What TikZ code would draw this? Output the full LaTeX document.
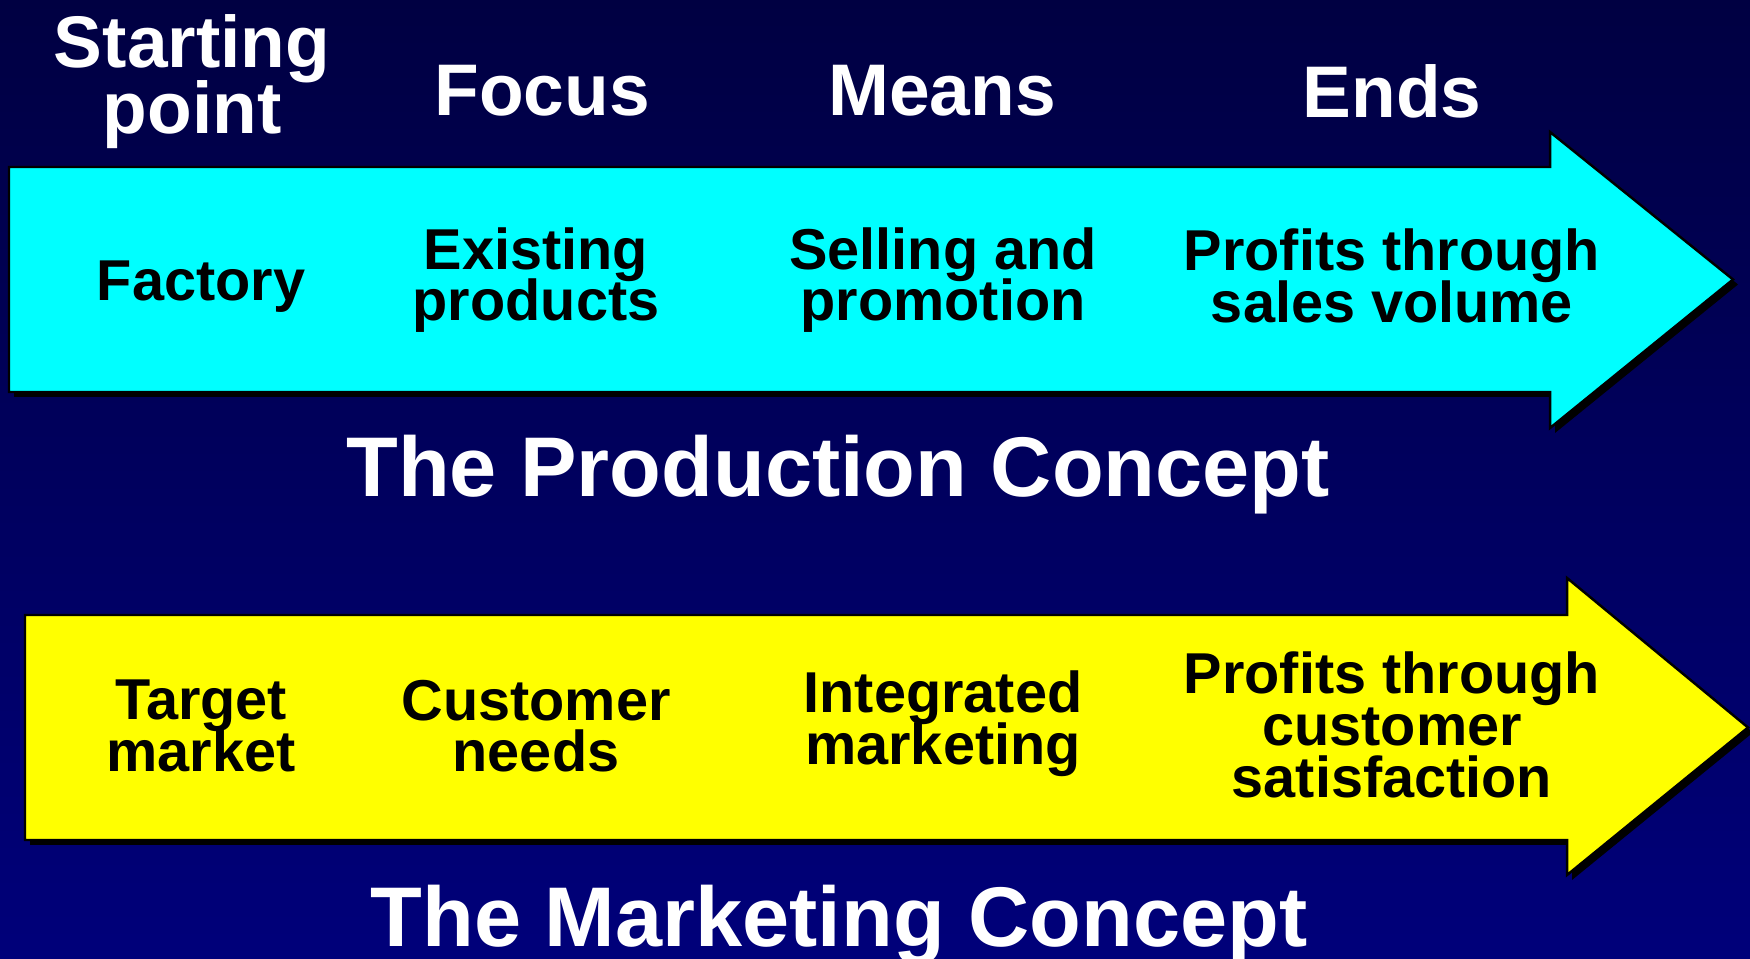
\documentclass[tikz,border=0pt]{standalone}
\usepackage{fontspec}
\setmainfont{Liberation Sans}
\usepackage{xcolor}

\definecolor{navytop}{RGB}{0,0,66}
\definecolor{navybot}{RGB}{0,0,122}
\definecolor{prodcyan}{RGB}{0,255,255}
\definecolor{markyellow}{RGB}{255,255,0}

% keep the baselineskip fixed in the two- and three-line labels
\setlength{\lineskiplimit}{-20pt}

\tikzset{
	heading/.style={text=white,font=\bfseries\fontsize{20.8}{18.8}\selectfont,align=center},
	cell/.style={text=black,font=\bfseries\fontsize{16.4}{14.7}\selectfont,align=center},
	concept/.style={text=white,font=\bfseries\fontsize{24.1}{28}\selectfont},
	body/.style={draw=black,line width=.7pt}
}

\begin{document}
\begin{tikzpicture}
	\useasboundingbox (0,0) rectangle (17.5,9.59);
	\shade[top color=navytop,bottom color=navybot] (0,0) rectangle (17.5,9.59);

	% production arrow, shadow first
	\fill[black,shift={(.05,-.05)}] (.09,7.92)--(15.5,7.92)--(15.5,8.27)--(17.33,6.795)--(15.5,5.31)--(15.5,5.67)--(.09,5.67)--cycle;
	\draw[body,fill=prodcyan] (.09,7.92)--(15.5,7.92)--(15.5,8.27)--(17.33,6.795)--(15.5,5.31)--(15.5,5.67)--(.09,5.67)--cycle;

	% marketing arrow
	\fill[black,shift={(.05,-.05)}] (.25,3.44)--(15.67,3.44)--(15.67,3.81)--(17.48,2.315)--(15.67,.84)--(15.67,1.19)--(.25,1.19)--cycle;
	\draw[body,fill=markyellow] (.25,3.44)--(15.67,3.44)--(15.67,3.81)--(17.48,2.315)--(15.67,.84)--(15.67,1.19)--(.25,1.19)--cycle;

	% column headings
	\node[heading] (start) at (1.92,8.77) {Starting\\point};
	\node[heading] (focus) at (5.42,8.68) {Focus};
	\node[heading] (means) at (9.42,8.68) {Means};
	\node[heading] (ends)  at (13.92,8.68) {Ends};

	\node[cell] (factory)  at (2.01,6.72) {Factory};
	\node[cell] (existing) at (5.36,6.79) {Existing\\products};
	\node[cell] (selling)  at (9.43,6.79) {Selling and\\promotion};
	\node[cell] (volume)   at (13.92,6.83) {Profits through\\sales volume};

	\node[cell] (target)     at (2.01,2.33) {Target\\market};
	\node[cell] (needs)      at (5.36,2.33) {Customer\\needs};
	\node[cell] (integrated) at (9.43,2.35) {Integrated\\marketing};
	\node[cell] (satisfied)  at (13.92,2.34) {Profits through\\customer\\satisfaction};

	\node[concept] (production) at (8.38,4.84) {The Production Concept};
	\node[concept] (marketing)  at (8.39,.34) {The Marketing Concept};
\end{tikzpicture}
\end{document}
